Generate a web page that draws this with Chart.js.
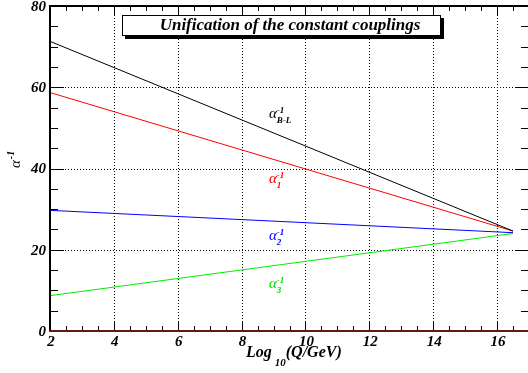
<!DOCTYPE html>
<html><head><meta charset="utf-8">
<script src="https://cdn.jsdelivr.net/npm/chart.js@4/dist/chart.umd.min.js"></script>
<style>html,body{margin:0;padding:0;background:#fff;overflow:hidden;width:528px;height:373px}#wrap{width:528px;height:373px;overflow:hidden;position:relative}canvas{display:block}</style>
</head><body><div id="wrap"><canvas id="c" width="536" height="373"></canvas></div>
<script>
// Data
const logQ = [2, 16.5];
const alphaBL = [71.3, 24.6];
const alpha1 = [58.7, 24.6];
const alpha2 = [29.7, 24.2];
const alpha3 = [8.7, 24.0];
const xTicks = [2, 4, 6, 8, 10, 12, 14, 16];
const yTicks = [0, 20, 40, 60, 80];
const titleText = 'Unification of the constant couplings';

const SERIF = '"Liberation Serif", "DejaVu Serif", serif';
const pts = arr => logQ.map((x, i) => ({x: x, y: arr[i]}));

const rootPlugin = {
  id: 'rootStyle',
  beforeDatasetsDraw(chart) {
    const {ctx, chartArea: a, scales: {x, y}} = chart;
    ctx.save();
    ctx.strokeStyle = '#000';
    ctx.lineWidth = 1;
    ctx.setLineDash([1, 2]);
    xTicks.forEach(v => {
      if (v <= x.min || v >= x.max) return;
      const px = Math.round(x.getPixelForValue(v)) + 0.5;
      ctx.beginPath(); ctx.moveTo(px, a.top); ctx.lineTo(px, a.bottom); ctx.stroke();
    });
    yTicks.forEach(v => {
      if (v <= y.min || v >= y.max) return;
      const py = Math.round(y.getPixelForValue(v)) + 0.5;
      ctx.beginPath(); ctx.moveTo(a.left, py); ctx.lineTo(a.right, py); ctx.stroke();
    });
    ctx.restore();
  },
  afterDatasetsDraw(chart) {
    const {ctx, chartArea: a, scales: {x, y}} = chart;
    ctx.save();
    ctx.setLineDash([]);
    // ticks
    ctx.strokeStyle = '#000';
    ctx.lineWidth = 1;
    for (let v = x.min; v <= x.max + 1e-9; v += 0.5) {
      const px = Math.round(x.getPixelForValue(v)) + 0.5;
      const major = Math.abs(v / 2 - Math.round(v / 2)) < 1e-6;
      const L = major ? 10 : 5;
      ctx.beginPath(); ctx.moveTo(px, a.bottom); ctx.lineTo(px, a.bottom - L); ctx.stroke();
      ctx.beginPath(); ctx.moveTo(px, a.top); ctx.lineTo(px, a.top + L); ctx.stroke();
    }
    for (let v = y.min; v <= y.max + 1e-9; v += 5) {
      const py = Math.round(y.getPixelForValue(v)) + 0.5;
      const major = v % 20 === 0;
      const L = major ? 14 : 8;
      ctx.beginPath(); ctx.moveTo(a.left, py); ctx.lineTo(a.left + L, py); ctx.stroke();
      ctx.beginPath(); ctx.moveTo(a.right, py); ctx.lineTo(a.right - L, py); ctx.stroke();
    }
    // frame
    ctx.lineWidth = 2;
    ctx.strokeStyle = '#000';
    ctx.beginPath(); ctx.moveTo(a.left, a.bottom); ctx.lineTo(a.left, a.top); ctx.lineTo(a.right, a.top); ctx.lineTo(a.right, a.bottom); ctx.stroke();
    ctx.strokeStyle = '#5e1a12';
    ctx.beginPath(); ctx.moveTo(a.left - 1, a.bottom); ctx.lineTo(a.right, a.bottom); ctx.stroke();

    // tick labels
    ctx.fillStyle = '#000';
    ctx.font = 'italic bold 15px ' + SERIF;
    ctx.textAlign = 'right'; ctx.textBaseline = 'middle';
    yTicks.forEach(v => ctx.fillText(String(v), a.left - 4, y.getPixelForValue(v) + 1));
    ctx.textAlign = 'center'; ctx.textBaseline = 'middle';
    xTicks.forEach(v => ctx.fillText(String(v), x.getPixelForValue(v) + 1, a.bottom + 11));

    // x title
    ctx.textAlign = 'left'; ctx.textBaseline = 'alphabetic';
    ctx.font = 'italic bold 16px ' + SERIF;
    let tx = 246;
    ctx.fillText('Log', tx, 357); tx += ctx.measureText('Log').width + 3;
    ctx.font = 'italic bold 11px ' + SERIF;
    ctx.fillText('10', tx, 366); tx += ctx.measureText('10').width;
    ctx.font = 'italic bold 16px ' + SERIF;
    ctx.fillText('(Q/GeV)', tx, 357);

    // y title
    ctx.save();
    ctx.translate(20, 168);
    ctx.rotate(-Math.PI / 2);
    ctx.font = 'italic 15px ' + SERIF;
    ctx.fillText('\u03B1', 0, 0);
    const wa = ctx.measureText('\u03B1').width;
    ctx.font = 'italic bold 10px ' + SERIF;
    ctx.fillText('-1', wa + 1, -6);
    ctx.restore();

    // title box
    ctx.fillStyle = '#000';
    ctx.fillRect(125, 18, 319, 21);
    ctx.fillStyle = '#fff';
    ctx.fillRect(122, 15, 319, 21);
    ctx.lineWidth = 1;
    ctx.strokeStyle = '#000';
    ctx.strokeRect(122.5, 15.5, 318, 20);
    ctx.fillStyle = '#000';
    ctx.font = 'italic bold 17px ' + SERIF;
    ctx.textAlign = 'center';
    ctx.fillText(titleText, 290, 30);

    // curve labels
    const lab = (px, py, sub, col) => {
      ctx.fillStyle = col;
      ctx.textAlign = 'left';
      ctx.font = 'italic 15px ' + SERIF;
      ctx.fillText('\u03B1', px, py);
      const w = ctx.measureText('\u03B1').width;
      ctx.font = 'italic bold 9px ' + SERIF;
      ctx.fillText('-1', px + w, py - 5);
      ctx.fillText(sub, px + w, py + 4.5);
    };
    lab(269, 118, 'B-L', '#000');
    lab(269, 183, '1', '#ff0000');
    lab(269, 240, '2', '#0000ff');
    lab(269, 288, '3', '#00dd00');
    ctx.restore();
  }
};

new Chart(document.getElementById('c'), {
  type: 'line',
  data: {
    datasets: [
      {label: 'B-L', data: pts(alphaBL), borderColor: '#000000'},
      {label: '1', data: pts(alpha1), borderColor: '#ff0000'},
      {label: '2', data: pts(alpha2), borderColor: '#0000ff'},
      {label: '3', data: pts(alpha3), borderColor: '#00ee00'}
    ]
  },
  options: {
    responsive: false,
    animation: false,
    events: [],
    layout: {padding: {left: 50, top: 6, right: 536 - 529, bottom: 42}},
    elements: {line: {borderWidth: 1, tension: 0}, point: {radius: 0}},
    plugins: {legend: {display: false}, tooltip: {enabled: false}, title: {display: false}},
    scales: {
      x: {type: 'linear', min: 2, max: 17, display: false},
      y: {type: 'linear', min: 0, max: 80, display: false}
    }
  },
  plugins: [rootPlugin]
});
</script>
</body></html>
